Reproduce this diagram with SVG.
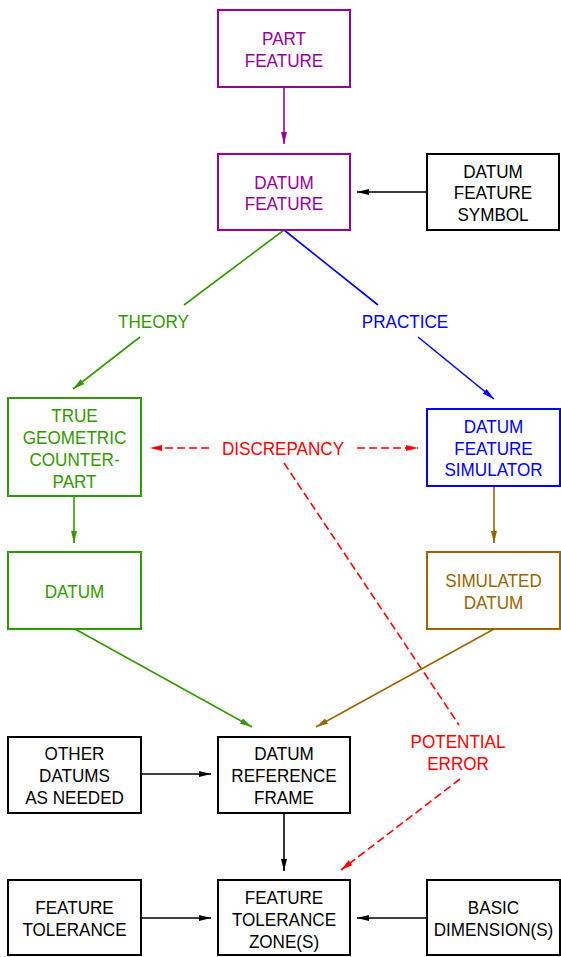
<svg xmlns="http://www.w3.org/2000/svg" width="561" height="957" viewBox="0 0 561 957">
<style>
.box{fill:#fff;stroke-width:2}
.t{font-family:"Liberation Sans",Arial,sans-serif;font-size:19px;text-anchor:middle}
.ln{fill:none;stroke-width:1.6}
.dash{stroke-dasharray:8,4}
.pu{stroke:#990099}.puT{fill:#990099}
.gr{stroke:#339900}.grT{fill:#339900}
.bl{stroke:#0000ff}.blT{fill:#0000ff}
.rd{stroke:#ff0000}.rdT{fill:#ff0000}
.br{stroke:#996600}.brT{fill:#996600}
.bk{stroke:#000}.bkT{fill:#000}
</style>
<defs>
<marker id="aPu" viewBox="0 -3 12 6" refX="12" refY="0" markerWidth="12" markerHeight="6" markerUnits="userSpaceOnUse" orient="auto"><path d="M0,-3L12,0L0,3z" fill="#990099"/></marker>
<marker id="aGr" viewBox="0 -3 12 6" refX="12" refY="0" markerWidth="12" markerHeight="6" markerUnits="userSpaceOnUse" orient="auto"><path d="M0,-3L12,0L0,3z" fill="#339900"/></marker>
<marker id="aBl" viewBox="0 -3 12 6" refX="12" refY="0" markerWidth="12" markerHeight="6" markerUnits="userSpaceOnUse" orient="auto"><path d="M0,-3L12,0L0,3z" fill="#0000ff"/></marker>
<marker id="aRd" viewBox="0 -3 12 6" refX="12" refY="0" markerWidth="12" markerHeight="6" markerUnits="userSpaceOnUse" orient="auto"><path d="M0,-3L12,0L0,3z" fill="#ff0000"/></marker>
<marker id="aBr" viewBox="0 -3 12 6" refX="12" refY="0" markerWidth="12" markerHeight="6" markerUnits="userSpaceOnUse" orient="auto"><path d="M0,-3L12,0L0,3z" fill="#996600"/></marker>
<marker id="aBk" viewBox="0 -3 12 6" refX="12" refY="0" markerWidth="12" markerHeight="6" markerUnits="userSpaceOnUse" orient="auto"><path d="M0,-3L12,0L0,3z" fill="#000"/></marker>
</defs>
<rect width="561" height="957" fill="#fff"/>

<g id="connectors">
<line class="ln pu" x1="284" y1="87" x2="284" y2="144" marker-end="url(#aPu)"/>
<line class="ln bk" x1="427" y1="192" x2="357" y2="192" marker-end="url(#aBk)"/>
<line class="ln gr" x1="284" y1="230" x2="184" y2="305"/>
<line class="ln gr" x1="140" y1="337" x2="73" y2="389" marker-end="url(#aGr)"/>
<line class="ln bl" x1="284" y1="230" x2="378" y2="305"/>
<line class="ln bl" x1="418" y1="337" x2="494" y2="399" marker-end="url(#aBl)"/>
<line class="ln rd dash" x1="209" y1="448" x2="150" y2="448" marker-end="url(#aRd)"/>
<line class="ln rd dash" x1="357" y1="448" x2="418" y2="448" marker-end="url(#aRd)"/>
<line class="ln rd dash" x1="284" y1="463" x2="459" y2="725"/>
<line class="ln rd dash" x1="460" y1="779" x2="341" y2="870" marker-end="url(#aRd)"/>
<line class="ln gr" x1="74" y1="497" x2="74" y2="543" marker-end="url(#aGr)"/>
<line class="ln br" x1="494" y1="486" x2="494" y2="543" marker-end="url(#aBr)"/>
<line class="ln gr" x1="75" y1="629" x2="252" y2="727" marker-end="url(#aGr)"/>
<line class="ln br" x1="494" y1="629" x2="316" y2="727" marker-end="url(#aBr)"/>
<line class="ln bk" x1="141" y1="774" x2="211" y2="774" marker-end="url(#aBk)"/>
<line class="ln bk" x1="284" y1="813" x2="284" y2="871" marker-end="url(#aBk)"/>
<line class="ln bk" x1="141" y1="918" x2="211" y2="918" marker-end="url(#aBk)"/>
<line class="ln bk" x1="427" y1="918" x2="357" y2="918" marker-end="url(#aBk)"/>
</g>

<g id="label-theory"><text class="t grT" transform="translate(153.5,0) scale(0.9,1)"><tspan x="0" y="328">THEORY</tspan></text></g>
<g id="label-practice"><text class="t blT" transform="translate(405,0) scale(0.9,1)"><tspan x="0" y="328">PRACTICE</tspan></text></g>
<g id="label-discrepancy"><text class="t rdT" transform="translate(283,0) scale(0.9,1)"><tspan x="0" y="455">DISCREPANCY</tspan></text></g>
<g id="label-potential-error"><text class="t rdT" transform="translate(458,0) scale(0.9,1)"><tspan x="0" y="748">POTENTIAL</tspan><tspan x="0" y="770">ERROR</tspan></text></g>

<g id="part-feature">
<rect class="box pu" x="218" y="10" width="132" height="77"/>
<text class="t puT" transform="translate(284,0) scale(0.9,1)"><tspan x="0" y="45">PART</tspan><tspan x="0" y="67">FEATURE</tspan></text>
</g>
<g id="datum-feature">
<rect class="box pu" x="218" y="154" width="132" height="76"/>
<text class="t puT" transform="translate(284,0) scale(0.9,1)"><tspan x="0" y="189">DATUM</tspan><tspan x="0" y="210">FEATURE</tspan></text>
</g>
<g id="datum-feature-symbol">
<rect class="box bk" x="427" y="154" width="132" height="76"/>
<text class="t bkT" transform="translate(493,0) scale(0.9,1)"><tspan x="0" y="178">DATUM</tspan><tspan x="0" y="199">FEATURE</tspan><tspan x="0" y="221">SYMBOL</tspan></text>
</g>
<g id="true-geometric-counterpart">
<rect class="box gr" x="8" y="398" width="133" height="98"/>
<text class="t grT" transform="translate(74.5,0) scale(0.9,1)"><tspan x="0" y="422">TRUE</tspan><tspan x="0" y="444">GEOMETRIC</tspan><tspan x="0" y="466">COUNTER-</tspan><tspan x="0" y="488">PART</tspan></text>
</g>
<g id="datum-feature-simulator">
<rect class="box bl" x="427" y="409" width="133" height="77"/>
<text class="t blT" transform="translate(493.5,0) scale(0.9,1)"><tspan x="0" y="433">DATUM</tspan><tspan x="0" y="455">FEATURE</tspan><tspan x="0" y="476">SIMULATOR</tspan></text>
</g>
<g id="datum">
<rect class="box gr" x="8" y="552" width="133" height="77"/>
<text class="t grT" transform="translate(74.5,0) scale(0.9,1)"><tspan x="0" y="598">DATUM</tspan></text>
</g>
<g id="simulated-datum">
<rect class="box br" x="427" y="552" width="133" height="77"/>
<text class="t brT" transform="translate(493.5,0) scale(0.9,1)"><tspan x="0" y="587">SIMULATED</tspan><tspan x="0" y="609">DATUM</tspan></text>
</g>
<g id="other-datums">
<rect class="box bk" x="8" y="737" width="133" height="76"/>
<text class="t bkT" transform="translate(74.5,0) scale(0.9,1)"><tspan x="0" y="760">OTHER</tspan><tspan x="0" y="782">DATUMS</tspan><tspan x="0" y="804">AS  NEEDED</tspan></text>
</g>
<g id="datum-reference-frame">
<rect class="box bk" x="218" y="737" width="132" height="76"/>
<text class="t bkT" transform="translate(284,0) scale(0.9,1)"><tspan x="0" y="760">DATUM</tspan><tspan x="0" y="782">REFERENCE</tspan><tspan x="0" y="804">FRAME</tspan></text>
</g>
<g id="feature-tolerance">
<rect class="box bk" x="8" y="880" width="133" height="75"/>
<text class="t bkT" transform="translate(74.5,0) scale(0.9,1)"><tspan x="0" y="914">FEATURE</tspan><tspan x="0" y="936">TOLERANCE</tspan></text>
</g>
<g id="feature-tolerance-zones">
<rect class="box bk" x="218" y="880" width="132" height="75"/>
<text class="t bkT" transform="translate(284,0) scale(0.9,1)"><tspan x="0" y="904">FEATURE</tspan><tspan x="0" y="926">TOLERANCE</tspan><tspan x="0" y="948">ZONE(S)</tspan></text>
</g>
<g id="basic-dimensions">
<rect class="box bk" x="427" y="880" width="133" height="75"/>
<text class="t bkT" transform="translate(493.5,0) scale(0.9,1)"><tspan x="0" y="914">BASIC</tspan><tspan x="0" y="936">DIMENSION(S)</tspan></text>
</g>
</svg>
